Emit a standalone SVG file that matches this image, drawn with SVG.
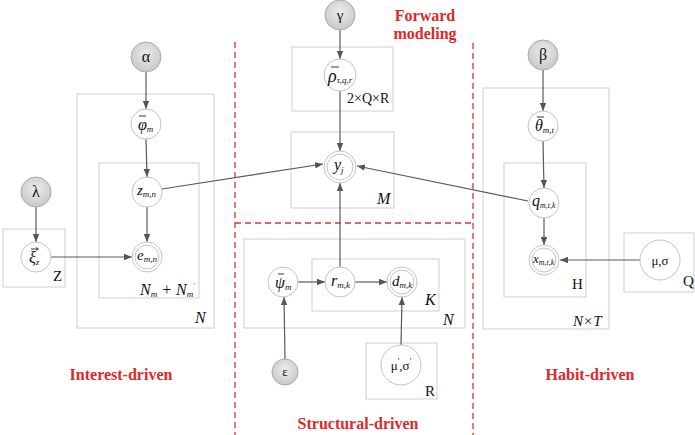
<svg xmlns="http://www.w3.org/2000/svg" width="695" height="435" viewBox="0 0 695 435" font-family="'Liberation Serif', 'Times New Roman', serif" font-size="14">
<defs>
<radialGradient id="g" cx="50%" cy="40%" r="60%">
<stop offset="0" stop-color="#ececec"/>
<stop offset="1" stop-color="#c8c8c8"/>
</radialGradient>
<marker id="a" viewBox="0 0 10 10" refX="10" refY="5" markerWidth="8" markerHeight="8" markerUnits="userSpaceOnUse" orient="auto">
<path d="M0,1 L10,5 L0,9 z" fill="#555"/>
</marker>
<style>
.box{fill:none;stroke:#cfcfcf;stroke-width:1}
.obs{fill:url(#g);stroke:#aaa;stroke-width:1}
.lat{fill:#fff;stroke:#c4c4c4;stroke-width:1}
.in{fill:none;stroke:#c4c4c4;stroke-width:1}
.e{stroke:#5a5a5a;stroke-width:1.2;fill:none;marker-end:url(#a)}
.bar{stroke:#222;stroke-width:0.9}
text{font-family:'Liberation Serif','Times New Roman',serif}
.t{fill:#111}
.v{fill:#111;font-style:italic}
.s{fill:#111;font-style:italic}
.c{text-anchor:middle}
.red{fill:#e0282a;font-weight:bold;text-anchor:middle}
.dash{stroke:#e03030;stroke-width:1.3;stroke-dasharray:6,4;fill:none}
</style>
</defs>

<g id="dividers">
<line class="dash" x1="235" y1="42" x2="235" y2="435"/>
<line class="dash" x1="473" y1="43" x2="473" y2="435"/>
<line class="dash" x1="235" y1="223" x2="473" y2="223"/>
</g>

<g id="plates">
<rect class="box" x="77" y="94" width="137" height="234"/>
<rect class="box" x="99" y="163" width="100" height="135"/>
<rect class="box" x="3" y="229" width="62" height="58"/>
<rect class="box" x="292" y="47" width="101" height="64"/>
<rect class="box" x="291" y="132" width="103" height="76"/>
<rect class="box" x="244" y="239" width="221" height="89"/>
<rect class="box" x="312" y="259" width="127" height="52"/>
<rect class="box" x="366" y="343" width="71" height="56"/>
<rect class="box" x="483" y="88" width="126" height="241"/>
<rect class="box" x="504" y="163" width="82" height="134"/>
<rect class="box" x="624" y="233" width="70" height="59"/>
<text class="v" x="195" y="323" font-size="16">N</text>
<text class="v" x="140" y="295" font-size="16">N<tspan font-size="9" dy="2">m</tspan><tspan dy="-2"> + N</tspan><tspan font-size="9" dy="2">m</tspan><tspan font-size="7" dy="-10">'</tspan></text>
<text class="t" x="53" y="281" font-size="15">Z</text>
<text class="t" x="347" y="103" font-size="14">2×Q×R</text>
<text class="v" x="377" y="204" font-size="16">M</text>
<text class="v" x="425" y="305" font-size="16">K</text>
<text class="v" x="443" y="325" font-size="16">N</text>
<text class="t" x="425" y="396" font-size="15">R</text>
<text class="t" x="572" y="289" font-size="15">H</text>
<text class="v" x="573" y="326" font-size="15">N×T</text>
<text class="t" x="683" y="286" font-size="15">Q</text>
</g>

<g id="connectors">
<line class="e" x1="146" y1="72" x2="146" y2="109"/>
<line class="e" x1="146" y1="139" x2="147" y2="177"/>
<line class="e" x1="147" y1="207" x2="147" y2="242"/>
<line class="e" x1="36" y1="207" x2="36" y2="242"/>
<line class="e" x1="51" y1="257" x2="132" y2="257"/>
<line class="e" x1="162" y1="189" x2="323" y2="164"/>
<line class="e" x1="528" y1="201" x2="357" y2="166"/>
<line class="e" x1="340" y1="30" x2="340" y2="59"/>
<line class="e" x1="340" y1="91" x2="340" y2="151"/>
<line class="e" x1="340" y1="267" x2="340" y2="183"/>
<line class="e" x1="298" y1="282" x2="325" y2="282"/>
<line class="e" x1="355" y1="282" x2="387" y2="282"/>
<line class="e" x1="285" y1="359" x2="284" y2="297"/>
<line class="e" x1="401" y1="345" x2="402" y2="297"/>
<line class="e" x1="543" y1="70" x2="543" y2="111"/>
<line class="e" x1="543" y1="141" x2="544" y2="188"/>
<line class="e" x1="544" y1="218" x2="544" y2="245"/>
<line class="e" x1="640" y1="260" x2="560" y2="260"/>
</g>

<g id="alpha"><circle class="obs" cx="146" cy="57" r="15"/><text class="t c" x="146" y="62" font-size="16">α</text></g>
<g id="lambda"><circle class="obs" cx="36" cy="192" r="15"/><text class="t c" x="36" y="197" font-size="16">λ</text></g>
<g id="gamma"><circle class="obs" cx="340" cy="15" r="15"/><text class="t c" x="340" y="20" font-size="15">γ</text></g>
<g id="epsilon"><circle class="obs" cx="285" cy="372" r="13"/><text class="t c" x="285" y="376" font-size="13">ε</text></g>
<g id="beta"><circle class="obs" cx="543" cy="55" r="15"/><text class="t c" x="543" y="60" font-size="16">β</text></g>

<g id="phi"><circle class="lat" cx="146" cy="124" r="15"/><line class="bar" x1="139" y1="116" x2="146" y2="116"/><text class="v" x="138" y="130" font-size="16">φ<tspan class="s" font-size="9" dy="2">m</tspan></text></g>
<g id="z"><circle class="lat" cx="147" cy="192" r="15"/><text class="v" x="137" y="195" font-size="15">z<tspan class="s" font-size="9" dy="2">m,n</tspan></text></g>
<g id="e"><circle class="lat" cx="147" cy="257" r="15"/><circle class="in" cx="147" cy="257" r="12"/><text class="v" x="137" y="260" font-size="15">e<tspan class="s" font-size="9" dy="2">m,n</tspan></text></g>
<g id="xi"><circle class="lat" cx="36" cy="257" r="15"/><line class="bar" x1="31" y1="249" x2="38" y2="249"/><path d="M36,247.5 L38.5,249 L36,250.5" fill="none" stroke="#222" stroke-width="0.8"/><text class="v" x="29" y="263" font-size="16">ξ<tspan class="s" font-size="9" dy="2">z</tspan></text></g>

<g id="rho"><circle class="lat" cx="340" cy="75" r="16"/><line class="bar" x1="331" y1="67" x2="339" y2="67"/><text class="v" x="328" y="82" font-size="18">ρ<tspan class="s" font-size="9" dy="1">τ,q,r</tspan></text></g>
<g id="y"><circle class="lat" cx="340" cy="167" r="16"/><circle class="in" cx="340" cy="167" r="13"/><text class="v" x="334" y="170" font-size="16">y<tspan class="s" font-size="9" dy="3">j</tspan></text></g>

<g id="psi"><circle class="lat" cx="283" cy="282" r="15"/><line class="bar" x1="278" y1="274" x2="284" y2="274"/><text class="v" x="275" y="288" font-size="16">ψ<tspan class="s" font-size="9" dy="2">m</tspan></text></g>
<g id="r"><circle class="lat" cx="340" cy="282" r="15"/><text class="v" x="331" y="286" font-size="16">r<tspan class="s" font-size="9" dy="2">m,k</tspan></text></g>
<g id="d"><circle class="lat" cx="402" cy="282" r="15"/><circle class="in" cx="402" cy="282" r="12"/><text class="v" x="392" y="286" font-size="15">d<tspan class="s" font-size="9" dy="2">m,k</tspan></text></g>
<g id="musigma2"><circle class="lat" cx="401" cy="365" r="20"/><text class="t c" x="401" y="370" font-size="13">μ<tspan font-size="9" dy="-6">'</tspan><tspan dy="6">,σ</tspan><tspan font-size="9" dy="-6">'</tspan></text></g>

<g id="theta"><circle class="lat" cx="543" cy="126" r="15"/><line class="bar" x1="537" y1="117" x2="544" y2="117"/><text class="v" x="535" y="131" font-size="16">θ<tspan class="s" font-size="9" dy="2">m,t</tspan></text></g>
<g id="q"><circle class="lat" cx="544" cy="203" r="15"/><text class="v" x="532" y="206" font-size="16">q<tspan class="s" font-size="8" dy="2">m,t,k</tspan></text></g>
<g id="x"><circle class="lat" cx="544" cy="260" r="15"/><circle class="in" cx="544" cy="260" r="12"/><text class="v" x="533" y="263" font-size="13">x<tspan class="s" font-size="8" dy="2">m,t,k</tspan></text></g>
<g id="musigma"><circle class="lat" cx="660" cy="260" r="20"/><text class="t c" x="660" y="265" font-size="13">μ,σ</text></g>

<g id="labels">
<text class="red" x="425" y="21" font-size="16">Forward</text>
<text class="red" x="425" y="39" font-size="16">modeling</text>
<text class="red" x="121" y="380" font-size="16">Interest-driven</text>
<text class="red" x="358" y="429" font-size="16">Structural-driven</text>
<text class="red" x="590" y="380" font-size="16">Habit-driven</text>
</g>
</svg>
